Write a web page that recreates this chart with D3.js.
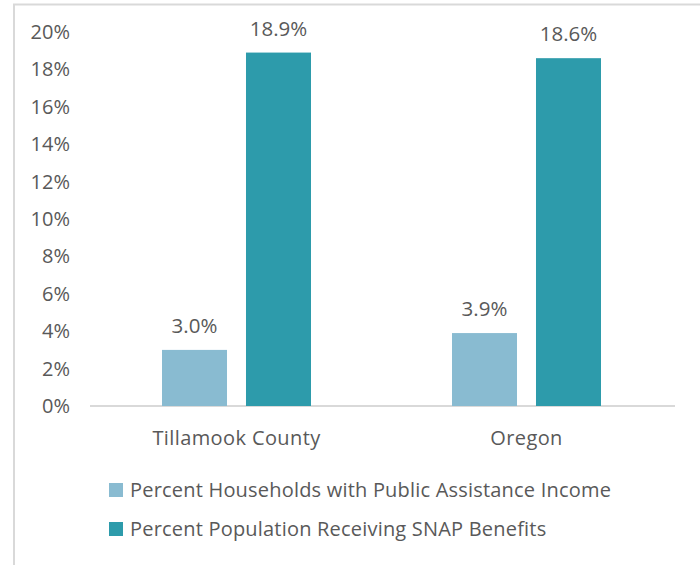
<!DOCTYPE html>
<html><head><meta charset="utf-8">
<script src="https://cdn.jsdelivr.net/npm/d3@7"></script>
<style>body{margin:0;background:#fff;} text{font-family:"Open Sans","Liberation Sans",sans-serif;fill:#595959;}</style>
</head><body>
<svg id="c" width="700" height="565"></svg>
<script>
const categories = ["Tillamook County", "Oregon"];
const seriesNames = ["Percent Households with Public Assistance Income", "Percent Population Receiving SNAP Benefits"];
const publicAssistance = [3.0, 3.9];
const snap = [18.9, 18.6];
const yTicks = [0, 2, 4, 6, 8, 10, 12, 14, 16, 18, 20];
const colors = ["#89BBD1", "#2D9BAB"];

(function(){
const svg = d3.select("#c");
svg.append("path").attr("d","M14,565 V4.5 H700").attr("fill","none").attr("stroke","#d9d9d9").attr("stroke-width",2);

const mLeft = 91.5, mRight = 671.5, mTop = 32, mBottom = 406;
const x0 = d3.scaleBand().domain(categories).range([mLeft, mRight]);
const x1 = d3.scaleBand().domain([0,1]).range([0, 149]).paddingInner(0.226);
const y = d3.scaleLinear().domain([0, 20]).range([mBottom, mTop]);

const yAxis = d3.axisLeft(y).tickValues(yTicks).tickFormat(d => d + "%").tickSize(0).tickPadding(20);
const gy = svg.append("g").attr("transform", `translate(90,0)`).call(yAxis);
gy.select(".domain").remove();
gy.selectAll("text").style("font-size","20px").attr("fill","#595959").attr("x",-20);

const xAxis = d3.axisBottom(x0).tickSize(0).tickPadding(25);
const gx = svg.append("g").attr("transform", `translate(0,${mBottom})`).call(xAxis);
gx.select(".domain").remove();
gx.append("line").attr("x1", 90).attr("x2", 675).attr("stroke","#d9d9d9").attr("stroke-width",2);
gx.selectAll("text").style("font-size","20px").style("letter-spacing","0.4px").attr("fill","#595959");

const data = categories.map((c,i)=>({cat:c, vals:[publicAssistance[i], snap[i]]}));
const groups = svg.append("g").selectAll("g").data(data).join("g")
  .attr("transform", d => `translate(${x0(d.cat) + x0.bandwidth()/2 - 74.5},0)`);
groups.selectAll("rect").data(d => d.vals.map((v,j)=>({v,j}))).join("rect")
  .attr("x", d => x1(d.j)).attr("width", x1.bandwidth())
  .attr("y", d => y(d.v)).attr("height", d => y(0) - y(d.v))
  .attr("fill", d => colors[d.j]);
groups.selectAll("text.lbl").data(d => d.vals.map((v,j)=>({v,j}))).join("text")
  .attr("class","lbl")
  .attr("x", d => x1(d.j) + x1.bandwidth()/2).attr("y", d => y(d.v) - 17)
  .attr("text-anchor","middle").style("font-size","20.5px")
  .text(d => d.v.toFixed(1) + "%");

const lg = svg.append("g").attr("transform","translate(109,483)");
seriesNames.forEach((n,i)=>{
  const g = lg.append("g").attr("transform",`translate(0,${i*39})`);
  g.append("rect").attr("width",14).attr("height",14).attr("fill",colors[i]);
  g.append("text").attr("x",21).attr("y",14).style("font-size","20px").style("letter-spacing","0.2px").text(n);
});
})();
</script>
</body></html>
